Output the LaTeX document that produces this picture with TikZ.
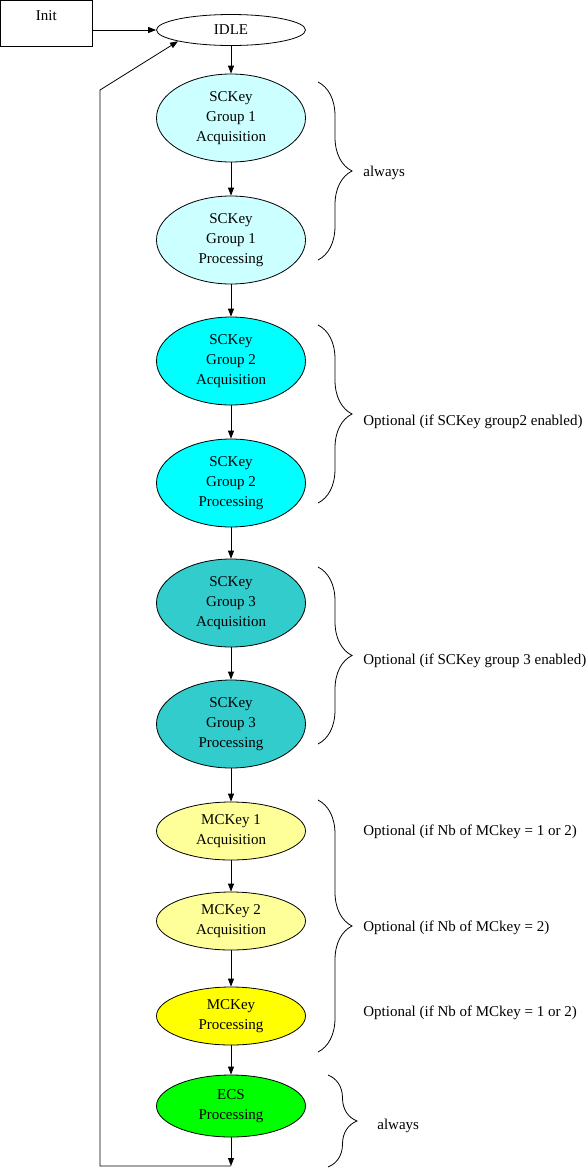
\documentclass[tikz,border=0pt]{standalone}
\usepackage{fontspec}
\setmainfont{Liberation Serif}
\usetikzlibrary{shapes.geometric,arrows.meta,decorations.pathreplacing}
\definecolor{gone}{HTML}{CCFFFF}
\definecolor{gtwo}{HTML}{00FFFF}
\definecolor{gthree}{HTML}{33CCCC}
\definecolor{mcl}{HTML}{FFFF99}
\definecolor{mcy}{HTML}{FFFF00}
\definecolor{ecsg}{HTML}{00FF00}
\begin{document}
\begin{tikzpicture}[x=1pt, y=-1pt, line width=0.8pt,
  font=\fontsize{15}{20}\selectfont, >={Triangle[length=8pt,width=6pt]},
  state/.style={ellipse, draw, align=center, inner sep=0pt, minimum width=149pt},
  big/.style={state, minimum height=88pt},
  small/.style={state, minimum height=58pt},
  brc/.style={decorate, decoration={brace, amplitude=34pt}},
  note/.style={anchor=west, inner sep=0pt}]
\useasboundingbox (0,0) rectangle (587,1168);
\node (init) [draw, anchor=north west, minimum width=92pt, inner sep=0pt,
  text height=20pt, text depth=26pt] at (0,0) {Init};
\node (idle) [state, minimum height=31pt] at (231,30) {IDLE};
\node (sca1) [big, fill=gone] at (231,118) {SCKey\\Group 1\\Acquisition};
\node (scp1) [big, fill=gone] at (231,240) {SCKey\\Group 1\\Processing};
\node (sca2) [big, fill=gtwo] at (231,361) {SCKey\\Group 2\\Acquisition};
\node (scp2) [big, fill=gtwo] at (231,483) {SCKey\\Group 2\\Processing};
\node (sca3) [big, fill=gthree] at (231,603) {SCKey\\Group 3\\Acquisition};
\node (scp3) [big, fill=gthree] at (231,724) {SCKey\\Group 3\\Processing};
\node (mca1) [small, fill=mcl] at (231,831) {MCKey 1\\Acquisition};
\node (mca2) [small, fill=mcl] at (231,921) {MCKey 2\\Acquisition};
\node (mcp) [small, fill=mcy] at (231,1016) {MCKey\\Processing};
\node (ecs) [small, fill=ecsg, minimum height=62pt] at (231,1106) {ECS\\Processing};
\coordinate (bot) at (231,1166);
\coordinate (lp) at (100,90);
\draw[->] (init.east |- idle) -- (idle.west);
\draw[->] (idle) -- (sca1);
\draw[->] (sca1) -- (scp1);
\draw[->] (scp1) -- (sca2);
\draw[->] (sca2) -- (scp2);
\draw[->] (scp2) -- (sca3);
\draw[->] (sca3) -- (scp3);
\draw[->] (scp3) -- (mca1);
\draw[->] (mca1) -- (mca2);
\draw[->] (mca2) -- (mcp);
\draw[->] (mcp) -- (ecs);
\draw[->] (ecs) -- (bot);
\draw[->] (bot) -| (lp) -- (idle.south west);
\draw[brc] (318,82) -- (318,260);
\draw[brc] (318,325) -- (318,503);
\draw[brc] (318,567) -- (318,744);
\draw[brc] (318,800) -- (318,1052);
\draw[brc, decoration={amplitude=29pt}] (328,1075) -- (328,1167);
\node (n1) [note] at (363,173) {always};
\node (n2) [note] at (363,422) {Optional (if SCKey group2 enabled)};
\node (n3) [note] at (363,661) {Optional (if SCKey group 3 enabled)};
\node (n4) [note] at (363,832) {Optional (if Nb of MCkey = 1 or 2)};
\node (n5) [note] at (363,928) {Optional (if Nb of MCkey = 2)};
\node (n6) [note] at (363,1013) {Optional (if Nb of MCkey = 1 or 2)};
\node (n7) [note] at (377,1126) {always};
\end{tikzpicture}
\end{document}
